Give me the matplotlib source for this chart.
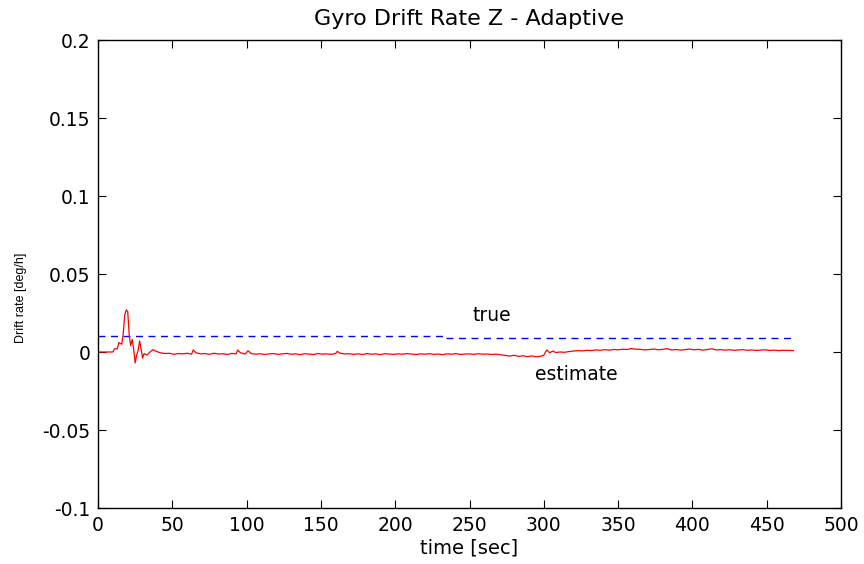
import matplotlib
matplotlib.use("Agg")
import matplotlib.pyplot as plt

plt.rcParams['font.family'] = ['DejaVu Sans']

# gyro drift estimate
est_t = [0, 10, 11, 13, 14, 16, 17, 18, 19, 20, 21, 22, 23, 24, 25, 26, 27, 28, 29, 30,
         31, 33, 35, 37, 39, 42, 45, 48, 51, 54, 57, 60, 63, 64, 66, 69, 72, 75, 78, 81,
         84, 87, 90, 93, 94, 96, 99, 101, 103, 106, 109, 112, 115, 118, 121, 124, 127, 130,
         133, 136, 139, 142, 145, 148, 151, 154, 157, 160, 161, 163, 166, 169, 172, 175,
         178, 181, 184, 187, 190, 193, 196, 199, 202, 205, 208, 211, 214, 217, 220, 223,
         226, 229, 232, 235, 238, 241, 244, 247, 250, 253, 256, 259, 262, 265, 268, 271,
         274, 277, 280, 283, 286, 289, 292, 295, 298, 300, 302, 304, 306, 308, 311, 314,
         317, 320, 323, 326, 329, 332, 335, 338, 341, 344, 347, 350, 353, 356, 359, 362,
         365, 368, 371, 374, 377, 380, 383, 386, 389, 392, 395, 398, 401, 404, 407, 410,
         413, 416, 419, 422, 425, 428, 431, 434, 437, 440, 443, 446, 449, 452, 455, 458,
         461, 464, 468]
est_v = [0, 0, 0.002, 0.002, 0.006, 0.005, 0.012, 0.024, 0.027, 0.026, 0.011, 0.004, 0.008,
         0.002, -0.007, -0.002, 0.001, 0.007, 0.002, -0.004,
         -0.001, -0.002, 0.0, 0.0015, 0.0005, -0.0005, -0.001, -0.0008, -0.0015, -0.001,
         -0.0012, -0.0008, -0.0014, 0.0013, -0.0005, -0.0012, -0.001, -0.0015, -0.0008, -0.0013,
         -0.0011, -0.0016, -0.0009, -0.0012, 0.0012, -0.0006, -0.0013, 0.0008, -0.001, -0.0014,
         -0.0011, -0.0016, -0.0012, -0.001, -0.0015, -0.0012, -0.0009, -0.0014,
         -0.0012, -0.0017, -0.0011, -0.0013, -0.0016, -0.001, -0.0014, -0.0012, -0.0015, -0.0009,
         0.0004, -0.0008, -0.0013, -0.0011, -0.0015, -0.0012,
         -0.0016, -0.001, -0.0014, -0.0012, -0.0017, -0.0011, -0.0013, -0.0015, -0.0012, -0.0014,
         -0.001, -0.0013, -0.0016, -0.0012, -0.0014, -0.0011,
         -0.0015, -0.0013, -0.0017, -0.0012, -0.0014, -0.001, -0.0016, -0.0013, -0.0012, -0.0015,
         -0.0011, -0.0014, -0.0013, -0.0016, -0.0014, -0.0018,
         -0.0022, -0.0026, -0.0021, -0.0028, -0.0024, -0.003, -0.0025, -0.0031, -0.0027, -0.002,
         0.0013, -0.0005, 0.0006, -0.0003, 0.0, -0.0002,
         0.0003, 0.0006, 0.0009, 0.0007, 0.0011, 0.0009, 0.0013, 0.0011, 0.0015, 0.0012,
         0.0016, 0.0014, 0.0018, 0.0016, 0.0022, 0.0018,
         0.0017, 0.0013, 0.0016, 0.0019, 0.0014, 0.0017, 0.0022, 0.0013, 0.0016, 0.0012,
         0.0015, 0.0019, 0.0014, 0.0017, 0.0012, 0.0016,
         0.0021, 0.0013, 0.0015, 0.0012, 0.0014, 0.0011, 0.0013, 0.0015, 0.0011, 0.0013,
         0.001, 0.0012, 0.0014, 0.001, 0.0012, 0.0009,
         0.0011, 0.001, 0.0009]

# true drift (step near 232 s)
true_t = [0, 232, 468]
true_v = [0.010, 0.009, 0.009]

fig = plt.figure(figsize=(8.64, 5.64), dpi=100)
ax = fig.add_axes([98 / 864, 1 - 508 / 564, 743 / 864, 468 / 564])

ax.plot(true_t, true_v, color='#0000ff', linestyle='--', linewidth=1.0,
        dashes=(5, 4), drawstyle='steps-post')
ax.plot(est_t, est_v, color='#ff0000', linewidth=0.9)

ax.text(265, 0.0237, 'true', ha='center', va='center', fontsize=13.5)
ax.text(322, -0.0143, 'estimate', ha='center', va='center', fontsize=13.5)

ax.set_xlim(0, 500)
ax.set_ylim(-0.1, 0.2)
ax.set_xticks(range(0, 501, 50))
ax.set_yticks([-0.1, -0.05, 0, 0.05, 0.1, 0.15, 0.2])
ax.set_yticklabels(['-0.1', '-0.05', '0', '0.05', '0.1', '0.15', '0.2'])
ax.tick_params(direction='in', length=6, top=True, right=True, labelsize=13.5, pad=5.5)
for s in ax.spines.values():
    s.set_linewidth(1.0)

ax.set_title('Gyro Drift Rate Z - Adaptive', fontsize=16, pad=11)
ax.set_xlabel('time [sec]', fontsize=14, labelpad=3)
ax.set_ylabel('Drift rate [deg/h]', fontsize=9, family='Liberation Sans')
ax.yaxis.set_label_coords(-0.095, 0.45)

fig.savefig('out.png', dpi=100)
